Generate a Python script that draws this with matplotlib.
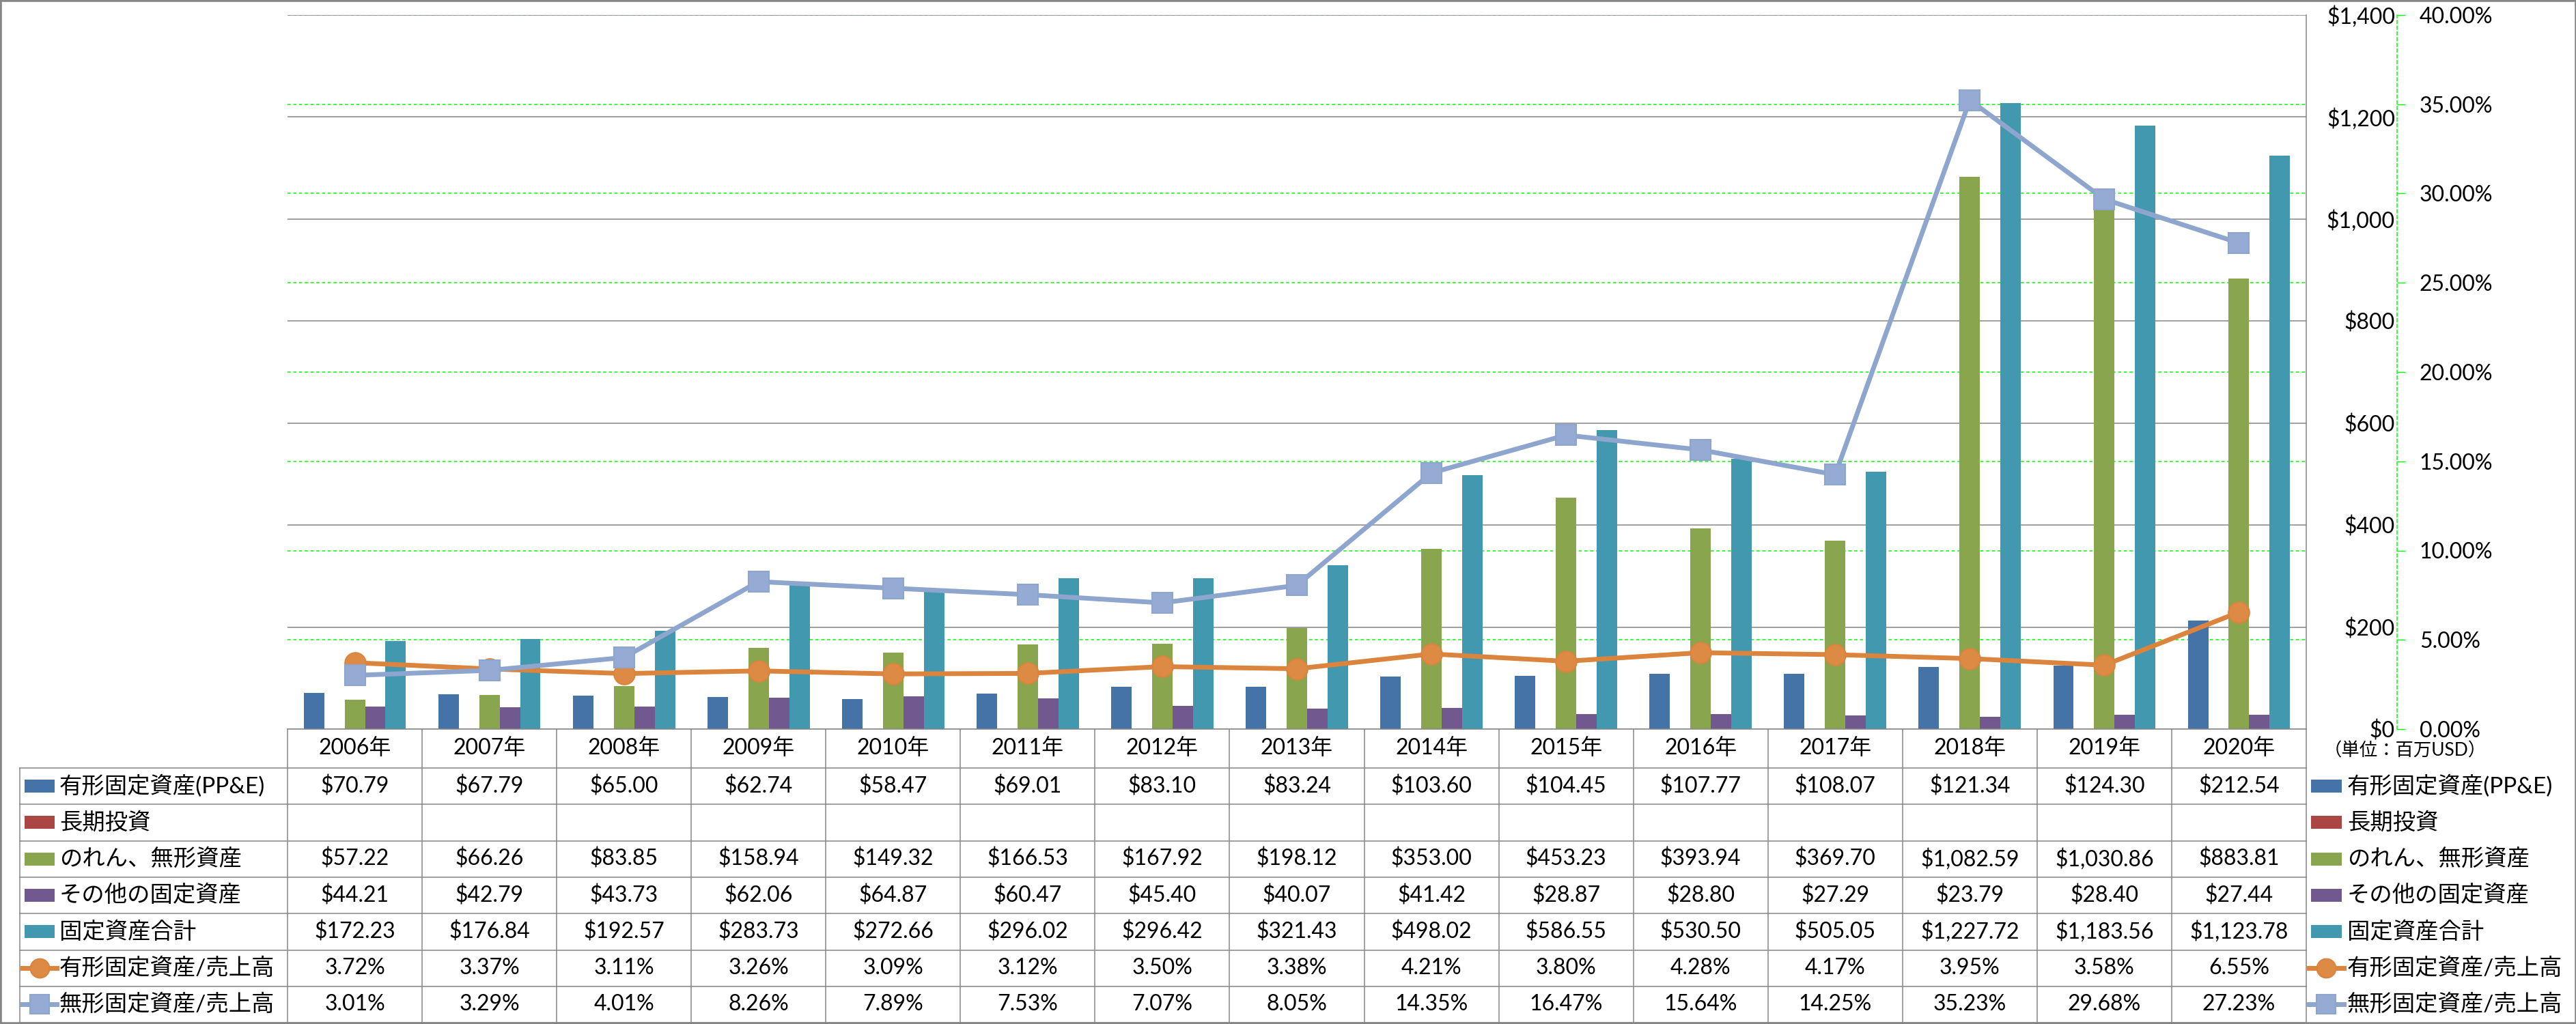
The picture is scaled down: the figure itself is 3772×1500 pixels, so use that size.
"""
Fixed-asset breakdown 2006-2020: grouped bars (USD m) + ratio lines (% of sales),
with an Excel-style data table under the plot and the legend on the right.
"""
import matplotlib

matplotlib.use("Agg")
import matplotlib.pyplot as plt
import numpy as np
from matplotlib.lines import Line2D
from matplotlib.patches import Rectangle
from matplotlib.transforms import blended_transform_factory

plt.rcParams["font.family"] = ["Lato", "Noto Sans CJK JP", "DejaVu Sans"]

# ---- data -------------------------------------------------------------------
years = ["2006年", "2007年", "2008年", "2009年", "2010年", "2011年", "2012年", "2013年",
         "2014年", "2015年", "2016年", "2017年", "2018年", "2019年", "2020年"]

ppe = [70.79, 67.79, 65.00, 62.74, 58.47, 69.01, 83.10, 83.24,
       103.60, 104.45, 107.77, 108.07, 121.34, 124.30, 212.54]
long_term_inv = [None] * 15
goodwill_intangibles = [57.22, 66.26, 83.85, 158.94, 149.32, 166.53, 167.92, 198.12,
                        353.00, 453.23, 393.94, 369.70, 1082.59, 1030.86, 883.81]
other_fixed = [44.21, 42.79, 43.73, 62.06, 64.87, 60.47, 45.40, 40.07,
               41.42, 28.87, 28.80, 27.29, 23.79, 28.40, 27.44]
total_fixed = [172.23, 176.84, 192.57, 283.73, 272.66, 296.02, 296.42, 321.43,
               498.02, 586.55, 530.50, 505.05, 1227.72, 1183.56, 1123.78]
ppe_to_sales = [3.72, 3.37, 3.11, 3.26, 3.09, 3.12, 3.50, 3.38,
                4.21, 3.80, 4.28, 4.17, 3.95, 3.58, 6.55]
intangible_to_sales = [3.01, 3.29, 4.01, 8.26, 7.89, 7.53, 7.07, 8.05,
                       14.35, 16.47, 15.64, 14.25, 35.23, 29.68, 27.23]

labels = ["有形固定資産(PP&E)", "長期投資", "のれん、無形資産", "その他の固定資産",
          "固定資産合計", "有形固定資産/売上高", "無形固定資産/売上高"]
usd_ticks = [0, 200, 400, 600, 800, 1000, 1200, 1400]
pct_ticks = [0, 5, 10, 15, 20, 25, 30, 35, 40]

# ---- style ------------------------------------------------------------------
C_PPE, C_LTI, C_GW, C_OTH, C_TOT = "#4572A7", "#AA4643", "#89A54E", "#71588F", "#4198AF"
C_R1, C_R1_FACE = "#DB843D", "#DD8A45"
C_R2, C_R2_FACE = "#8EA6CD", "#95ABD3"
GRID = "#868686"
GREEN = "#00FF00"
FS_NUM = 23
FS_LBL = 24
LW_LINE = 5.0

W, H, DPI = 3773, 1500, 100
AX_L, AX_R, AX_T, AX_B = 421, 3377, 22, 1068
HDR_B = 1125
ROW_H = 53.3


def fx(px):
    return px / W


def fy(py):
    return 1 - py / H


fig = plt.figure(figsize=(W / DPI, H / DPI), dpi=DPI)
ax = fig.add_axes([fx(AX_L), fy(AX_B), (AX_R - AX_L) / W, (AX_B - AX_T) / H])
ax2 = ax.twinx()

x = np.arange(len(years))
bw = 0.152
bar_series = [(ppe, C_PPE), (long_term_inv, C_LTI), (goodwill_intangibles, C_GW),
              (other_fixed, C_OTH), (total_fixed, C_TOT)]
for k, (vals, col) in enumerate(bar_series):
    h = np.array([np.nan if v is None else v for v in vals], dtype=float)
    ax.bar(x + (k - 2) * bw, h, width=bw, color=col, linewidth=0, zorder=2)

# secondary-axis gridlines, drawn on the primary axes so they sit behind the bars
tr_pct = blended_transform_factory(ax.transAxes, ax2.transData)
for v in pct_ticks[1:]:
    ax.plot([0, 1], [v, v], transform=tr_pct, color=GREEN, lw=1.1,
            ls=(0, (3, 2.5)), zorder=0.4)

ax.set_xlim(-0.5, len(years) - 0.5)
ax.set_ylim(0, 1400)
ax.yaxis.grid(True, color=GRID, lw=1.1, zorder=0.5)
ax.set_axisbelow(True)
ax.yaxis.tick_right()
ax.tick_params(axis="y", length=0, pad=(3507 - AX_R) * 0.72, labelsize=FS_NUM)
ax.set_yticks(usd_ticks, [f"${v:,}" for v in usd_ticks], ha="right")
ax.tick_params(axis="x", bottom=False, labelbottom=False)
for s in ["top", "left"]:
    ax.spines[s].set_visible(False)
for s in ["right", "bottom"]:
    ax.spines[s].set_color(GRID)
    ax.spines[s].set_linewidth(1.1)

ax2.plot(x, ppe_to_sales, color=C_R1, lw=LW_LINE, marker="o", ms=22,
         mfc=C_R1_FACE, mec=C_R1, mew=1.5, zorder=3)
ax2.plot(x, intangible_to_sales, color=C_R2, lw=LW_LINE, marker="s", ms=21,
         mfc=C_R2_FACE, mec=C_R2, mew=1.5, zorder=3)
ax2.set_ylim(0, 40)
ax2.set_yticks(pct_ticks, [f"{v:.2f}%" for v in pct_ticks])
for s in ["top", "left", "bottom"]:
    ax2.spines[s].set_visible(False)
ax2.spines["right"].set_position(("outward", (3510 - AX_R) * 0.72))
ax2.spines["right"].set_color(GREEN)
ax2.spines["right"].set_linestyle((0, (3, 2.5)))
ax2.spines["right"].set_linewidth(1.1)
ax2.tick_params(axis="y", direction="out", length=8.6, width=1.0, color=GREEN,
                pad=15, labelsize=FS_NUM)

# ---- data table -------------------------------------------------------------
tcol = blended_transform_factory(ax.transData, fig.transFigure)
tfig = fig.transFigure
n_rows = len(labels)
row_top = [HDR_B + r * ROW_H for r in range(n_rows + 1)]
table_bot = row_top[-1]


def hline(x0, x1, ypix, transform=tfig):
    fig.add_artist(Line2D([x0, x1], [fy(ypix), fy(ypix)], transform=transform,
                          color=GRID, lw=1.1))


def vline(xv, y0, y1, transform=tfig):
    fig.add_artist(Line2D([xv, xv], [fy(y0), fy(y1)], transform=transform,
                          color=GRID, lw=1.1))


for yp in row_top:
    hline(fx(29), fx(AX_R), yp)
vline(fx(29), HDR_B, table_bot)
for i in range(len(years) + 1):
    vline(i - 0.5, AX_B, table_bot, transform=tcol)

for i, yr in enumerate(years):
    fig.text(i, fy((AX_B + HDR_B) / 2), yr, transform=tcol, ha="center",
             va="center", fontsize=FS_NUM)

rows = [ppe, long_term_inv, goodwill_intangibles, other_fixed, total_fixed,
        ppe_to_sales, intangible_to_sales]
for r, vals in enumerate(rows):
    yc = row_top[r] + ROW_H / 2
    for i, v in enumerate(vals):
        if v is None:
            continue
        s = f"{v:.2f}%" if r >= 5 else f"${v:,.2f}"
        fig.text(i, fy(yc), s, transform=tcol, ha="center", va="center",
                 fontsize=FS_NUM)

keys = [("bar", C_PPE), ("bar", C_LTI), ("bar", C_GW), ("bar", C_OTH), ("bar", C_TOT),
        ("o", C_R1), ("s", C_R2)]


def draw_key(kind, col, x0, x1, yc):
    if kind == "bar":
        kh = 19
        fig.add_artist(Rectangle((fx(x0), fy(yc + kh / 2)), (x1 - x0) / W, kh / H,
                                 transform=tfig, color=col, lw=0))
    else:
        face = C_R1_FACE if kind == "o" else C_R2_FACE
        fig.add_artist(Line2D([fx(x0 - 3), fx(x1 + 3)], [fy(yc), fy(yc)], transform=tfig,
                              color=col, lw=LW_LINE))
        fig.add_artist(Line2D([fx((x0 + x1) / 2)], [fy(yc)], transform=tfig, marker=kind,
                              ms=20, mfc=face, mec=col, mew=1.5, lw=0))


for r, (lab, (kind, col)) in enumerate(zip(labels, keys)):
    yc = row_top[r] + ROW_H / 2
    # label column
    draw_key(kind, col, 36, 80, yc)
    fig.text(fx(87), fy(yc), lab, ha="left", va="center", fontsize=FS_LBL)
    # legend on the right
    draw_key(kind, col, 3384, 3429, yc)
    fig.text(fx(3437), fy(yc), lab, ha="left", va="center", fontsize=FS_LBL)

fig.text(fx(3403), fy(1100), "（単位：百万USD）", ha="left", va="center", fontsize=19)

# outer chart frame
fig.add_artist(Rectangle((0, 0), 1, 1, transform=tfig, fill=False, ec=GRID, lw=4))

fig.savefig("out.png", dpi=DPI)
